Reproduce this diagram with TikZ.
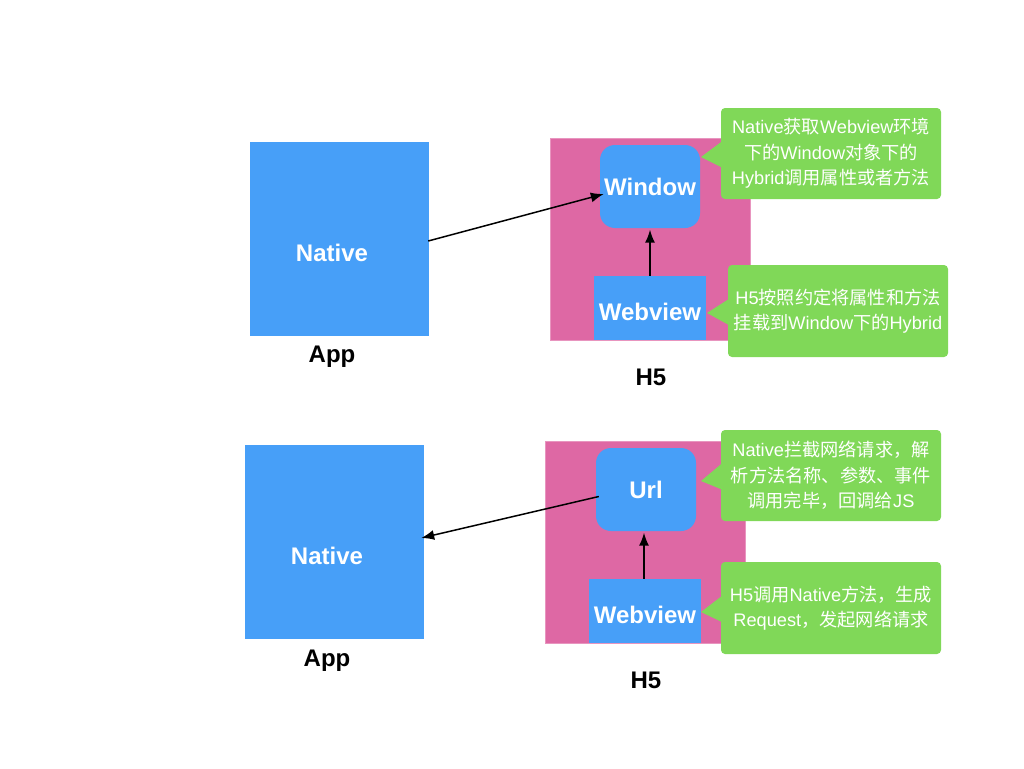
\documentclass[tikz,border=0pt]{standalone}
\usepackage{fontspec}
\setmainfont{Liberation Sans}
\newfontfamily\cjkf{Noto Sans CJK SC}
\newcommand\zh[1]{{\cjkf #1}}
\usetikzlibrary{arrows.meta,calc}
\definecolor{nblue}{RGB}{71,159,248}
\definecolor{npink}{RGB}{222,104,164}
\definecolor{ngreen}{RGB}{128,216,88}
\begin{document}
\begin{tikzpicture}[x=1pt,y=-1pt,
  pinkbox/.style={fill=npink, draw=npink!70!white, line width=0.6pt, inner sep=0, minimum width=200pt, minimum height=202pt},
  bigbox/.style={fill=nblue, inner sep=0, minimum width=179pt, minimum height=194pt},
  roundbox/.style={fill=nblue, inner sep=0, rounded corners=15pt, minimum width=100pt, minimum height=83pt, text=white, font=\fontsize{24}{28}\selectfont\bfseries},
  webbox/.style={fill=nblue, inner sep=0, minimum width=112pt, minimum height=64pt, text height=25pt, text depth=0pt, text=white, font=\fontsize{24}{28}\selectfont\bfseries},
  lbl/.style={text=white, inner sep=0, font=\fontsize{24}{28}\selectfont\bfseries},
  caplbl/.style={text=black, inner sep=0, font=\fontsize{24}{28}\selectfont\bfseries},
  callout/.style={fill=ngreen, rounded corners=4pt, minimum width=220pt, text=white, align=center, inner sep=0, font=\fontsize{18.2}{25.5}\selectfont},
  arr/.style={-{Latex[length=13pt,width=10pt]}, line width=1.5pt, draw=black}
]
\useasboundingbox[fill=white] (0,0) rectangle (1024,768);

% ---------- top diagram ----------
\node[bigbox] (natA) at (339.5,239) {};
\node[lbl] (natAt) at (332,253) {Native};
\node[caplbl] (appA) at (332,357) {App};
\node[pinkbox] (pinkA) at (650,239) {};
\node[roundbox] (winA) at (650,186.5) {Window};
\node[webbox] (webA) at (650,308) {Webview};
\node[caplbl] (h5A) at (651,377) {H5};

\draw[arr] ($(natA.east)+(-1,2)$) -- ($(winA.west)+(4,7.5)$);
\draw[arr] (webA.north) -- ($(winA.south)+(0,1.5)$);

\node[callout, minimum height=91pt] (c1) at (831,153.5)
  {Native\zh{获取}Webview\zh{环境}\\ \zh{下的}Window\zh{对象下的}\\ Hybrid\zh{调用属性或者方法}};
\coordinate (t1) at (701,157);
\fill[ngreen] ($(c1.west)+(1,-12)$) -- (t1) -- ($(c1.west)+(1,14)$) -- cycle;

\node[callout, minimum height=92pt] (c2) at (838,311)
  {H5\zh{按照约定将属性和方法}\\ \zh{挂载到}Window\zh{下的}Hybrid};
\coordinate (t2) at (707,313);
\fill[ngreen] ($(c2.west)+(1,-12)$) -- (t2) -- ($(c2.west)+(1,14)$) -- cycle;

% ---------- bottom diagram ----------
\node[bigbox] (natB) at (334.5,542) {};
\node[lbl] (natBt) at (327,556) {Native};
\node[caplbl] (appB) at (327,661) {App};
\node[pinkbox] (pinkB) at (645,542) {};
\node[roundbox] (urlB) at (646,489.5) {Url};
\node[webbox] (webB) at (645,611) {Webview};
\node[caplbl] (h5B) at (646,680) {H5};

\draw[arr] ($(urlB.west)+(3,7)$) -- ($(natB.east)+(-3,-4)$);
\draw[arr] ($(webB.north)+(-1,0)$) -- ($(urlB.south)+(-2,1.5)$);

\node[callout, minimum height=91pt] (c3) at (831,475.5)
  {Native\zh{拦截网络请求，解}\\ \zh{析方法名称、参数、事件}\\ \zh{调用完毕，回调给}JS};
\coordinate (t3) at (701,481);
\fill[ngreen] ($(c3.west)+(1,-12)$) -- (t3) -- ($(c3.west)+(1,14)$) -- cycle;

\node[callout, minimum height=92pt] (c4) at (831,608)
  {H5\zh{调用}Native\zh{方法，生成}\\ Request\zh{，发起网络请求}};
\coordinate (t4) at (701,612);
\fill[ngreen] ($(c4.west)+(1,-12)$) -- (t4) -- ($(c4.west)+(1,14)$) -- cycle;
\end{tikzpicture}
\end{document}
